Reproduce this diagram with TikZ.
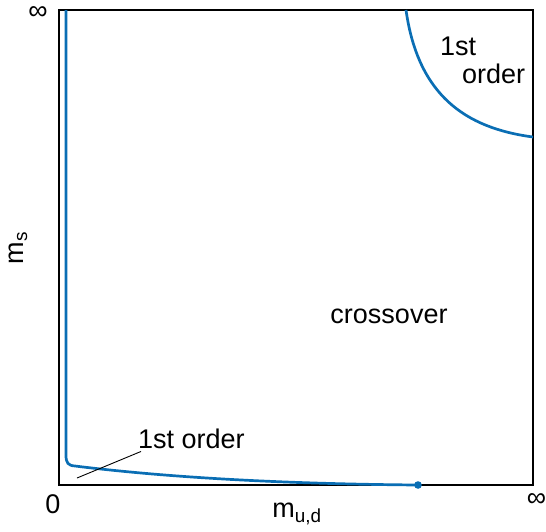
\documentclass[tikz,border=0pt]{standalone}
\usepackage{fontspec}
\setmainfont{Liberation Sans}
\usepackage{tikz}
\usetikzlibrary{positioning}
\definecolor{phase}{HTML}{0A6EB4}
\tikzset{
  frame/.style={draw=black, line width=1.6pt},
  border/.style={draw=phase, line width=2.7pt},
  lbl/.style={font=\fontsize{27}{28}\selectfont, inner sep=0pt, align=left},
  axlbl/.style={font=\fontsize{27}{28}\selectfont, inner sep=0pt},
  pointer/.style={draw=black, line width=0.9pt}
}
\begin{document}
\begin{tikzpicture}[x=1pt, y=-1pt]
 \useasboundingbox (0,0) rectangle (546,531);
 % plot area
 \draw[frame] (59,10) rectangle (533,485);
 % transition lines
 \draw[border] (66,10) -- (66,455) .. controls (66,463) and (68,465.5) .. (75,466)
   .. controls (180,479) and (300,484) .. (418,485);
 \fill[phase] (418,485) circle (3.8pt);
 \draw[border] (406,10) .. controls (418,95) and (465,128) .. (533,137);
 % region labels
 \node[lbl, anchor=base] (cross) at (389,323) {crossover};
 \node[lbl, anchor=base west] (toplbl) at (440,83) {1st\\\hspace*{22pt}order};
 \node[lbl, anchor=base west, inner sep=3pt] (lowlbl) at (135,448) {1st order};
 \coordinate (lowtip) at (77,478);
 \draw[pointer] (lowtip) -- ([xshift=6pt]lowlbl.south west);
 % axes
 \node[axlbl] (inftop) at (38,13) {∞};
 \node[axlbl] (zero) at (53,504) {0};
 \node[axlbl] (infright) at (536.5,500) {∞};
 \node[axlbl, anchor=base] (mud) at (297,517) {m\textsubscript{u,d}};
 \node[axlbl, rotate=90] (ms) at (18,248) {m\textsubscript{s}};
\end{tikzpicture}
\end{document}
